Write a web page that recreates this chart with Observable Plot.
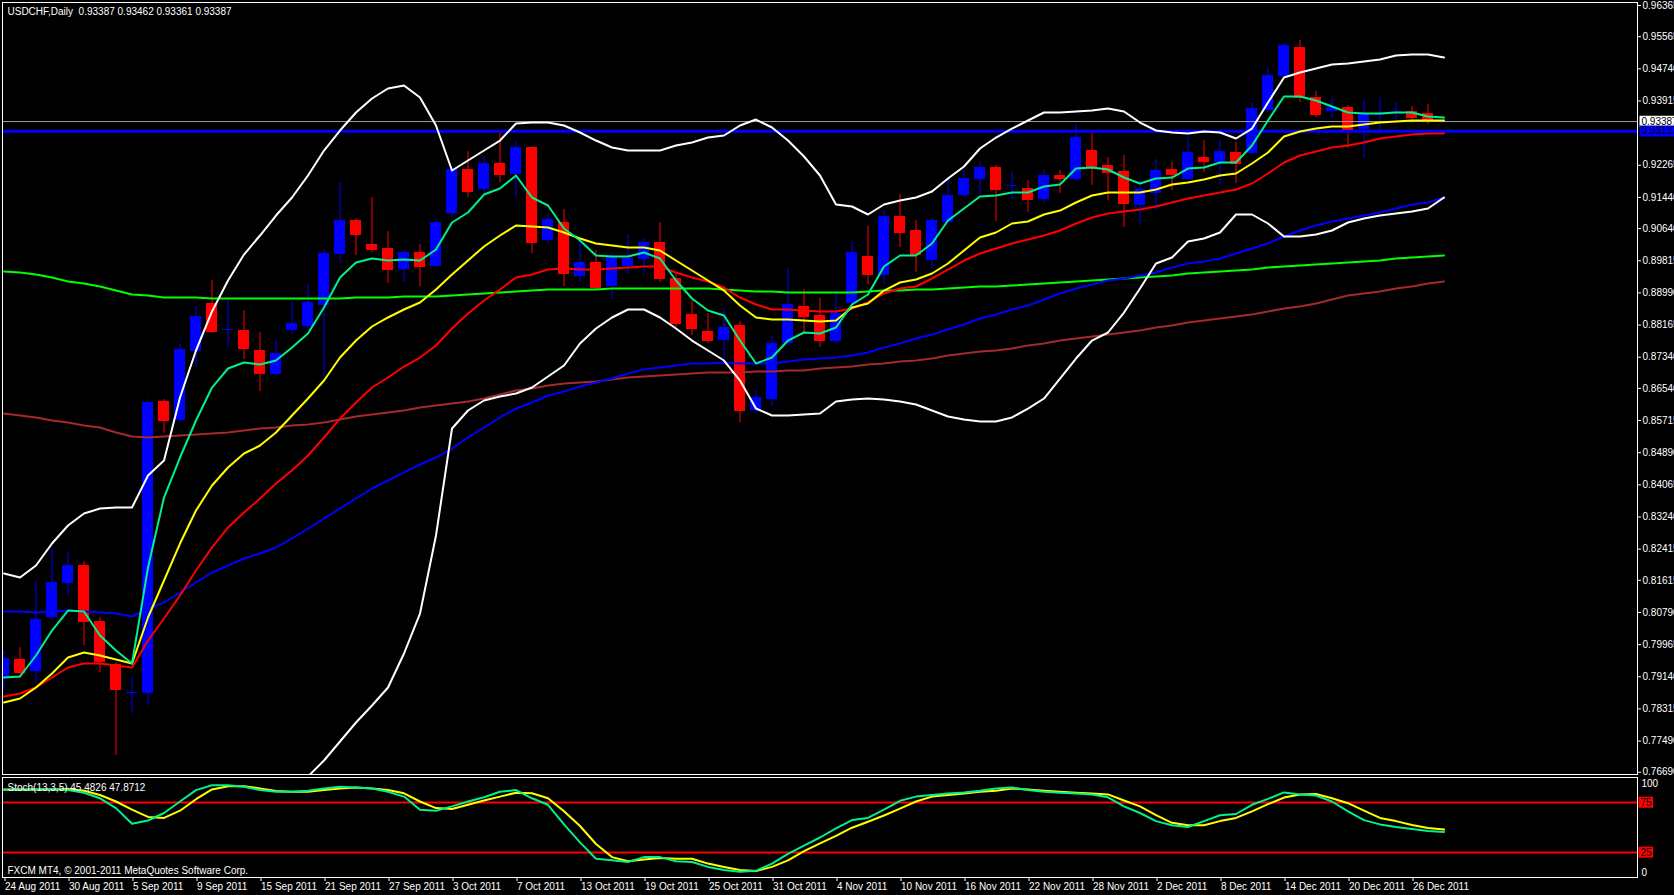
<!DOCTYPE html>
<html><head><meta charset="utf-8">
<script src="https://cdn.jsdelivr.net/npm/d3@7"></script>
<script src="https://cdn.jsdelivr.net/npm/@observablehq/plot@0.6"></script>
<style>
html,body{margin:0;padding:0;background:#000;width:1674px;height:895px;overflow:hidden;}
#wrap{position:relative;width:1674px;height:895px;}
#wrap svg{position:absolute;left:0;top:0;}
svg text{white-space:pre;}
</style></head><body><div id="wrap"></div>
<script>
// ---------- data ----------
const symbol = "USDCHF,Daily";
const dates = ["24 Aug","25 Aug","26 Aug","29 Aug","30 Aug","31 Aug","1 Sep","2 Sep","5 Sep","6 Sep","7 Sep","8 Sep","9 Sep","12 Sep","13 Sep","14 Sep","15 Sep","16 Sep","19 Sep","20 Sep","21 Sep","22 Sep","23 Sep","26 Sep","27 Sep","28 Sep","29 Sep","30 Sep","3 Oct","4 Oct","5 Oct","6 Oct","7 Oct","10 Oct","11 Oct","12 Oct","13 Oct","14 Oct","17 Oct","18 Oct","19 Oct","20 Oct","21 Oct","24 Oct","25 Oct","26 Oct","27 Oct","28 Oct","31 Oct","1 Nov","2 Nov","3 Nov","4 Nov","7 Nov","8 Nov","9 Nov","10 Nov","11 Nov","14 Nov","15 Nov","16 Nov","17 Nov","18 Nov","21 Nov","22 Nov","23 Nov","24 Nov","25 Nov","28 Nov","29 Nov","30 Nov","1 Dec","2 Dec","5 Dec","6 Dec","7 Dec","8 Dec","9 Dec","12 Dec","13 Dec","14 Dec","15 Dec","16 Dec","19 Dec","20 Dec","21 Dec","22 Dec","23 Dec","26 Dec","27 Dec","28 Dec"];
const year = "2011";

const open = [0.79120,0.79583,0.79275,0.80660,0.81533,0.81995,0.80558,0.79454,0.78710,0.78710,
0.86203,0.85715,0.87486,0.88718,0.88025,0.88025,0.87512,0.86896,0.88025,0.88127,
0.88666,0.89975,0.90848,0.90232,0.90129,0.89590,0.90026,0.89667,0.91027,0.92156,
0.91643,0.92310,0.92028,0.92721,0.90334,0.90796,0.89411,0.89770,0.89154,0.89667,
0.89847,0.90283,0.89359,0.88435,0.87999,0.87768,0.88153,0.85972,0.86254,0.87691,
0.88641,0.88410,0.87743,0.88718,0.89924,0.89436,0.90950,0.90591,0.89821,0.90796,
0.91489,0.91900,0.92208,0.91720,0.91669,0.91387,0.92002,0.91900,0.92644,0.92259,
0.92105,0.91233,0.91540,0.92156,0.91900,0.92464,0.92336,0.92593,0.92567,0.93670,
0.94543,0.95287,0.94004,0.93645,0.93747,0.93183,0.93542,0.93593,0.93645,0.93593,
0.93387];
const high = [0.79813,0.79890,0.81584,0.82405,0.82328,0.82097,0.80660,0.79506,0.79120,0.86254,
0.86254,0.87691,0.88641,0.89308,0.88846,0.88538,0.87974,0.87768,0.88769,0.89205,
0.90103,0.91823,0.90899,0.91438,0.90565,0.90078,0.90232,0.90873,0.92233,0.92618,
0.92490,0.93106,0.92875,0.92746,0.91027,0.91130,0.90360,0.90078,0.90001,0.90488,
0.90386,0.90796,0.89513,0.88795,0.88461,0.88564,0.88256,0.86485,0.87871,0.89616,
0.89077,0.88846,0.89026,0.90309,0.90694,0.91104,0.91515,0.90848,0.90899,0.91951,
0.92156,0.92336,0.92259,0.92105,0.91874,0.92131,0.92131,0.93311,0.93080,0.92464,
0.92516,0.91874,0.92413,0.92336,0.92977,0.92900,0.92900,0.92849,0.93876,0.94774,
0.95390,0.95467,0.94158,0.94004,0.93799,0.93927,0.94004,0.93876,0.93773,0.93824,
0.93462];
const low = [0.78787,0.79098,0.78970,0.80583,0.81225,0.79942,0.79249,0.77119,0.78197,0.78402,
0.85382,0.85664,0.87075,0.87948,0.87589,0.87281,0.86460,0.86844,0.87948,0.88025,
0.86819,0.89744,0.89949,0.90026,0.89231,0.89257,0.89154,0.89642,0.90925,0.91438,
0.91540,0.91823,0.91438,0.90001,0.90257,0.89154,0.89257,0.89051,0.88820,0.89462,
0.89488,0.89257,0.88102,0.87897,0.87691,0.87306,0.85664,0.85921,0.86075,0.87640,
0.87974,0.87589,0.87691,0.88666,0.89205,0.89205,0.90155,0.89513,0.89616,0.90745,
0.91438,0.91515,0.90822,0.91387,0.91053,0.91284,0.91540,0.91849,0.91746,0.91361,
0.90668,0.90719,0.91104,0.91617,0.91849,0.92079,0.91746,0.91797,0.92516,0.93619,
0.94492,0.93876,0.93491,0.93465,0.92695,0.92439,0.93080,0.93337,0.93439,0.93311,
0.93361];
const close = [0.79608,0.79249,0.80609,0.81558,0.81995,0.80558,0.79531,0.78813,0.78736,0.86177,
0.85715,0.87537,0.88384,0.87999,0.88051,0.87563,0.86921,0.87435,0.88204,0.88743,
0.90001,0.90848,0.90488,0.90103,0.89590,0.90026,0.89667,0.90796,0.92156,0.91592,
0.92310,0.92028,0.92721,0.90283,0.90873,0.89488,0.89770,0.89128,0.89898,0.89873,
0.90283,0.89359,0.88204,0.88076,0.87768,0.88102,0.85972,0.86306,0.87691,0.88692,
0.88384,0.87768,0.88461,0.90026,0.89462,0.90950,0.90540,0.89975,0.90848,0.91489,
0.91925,0.92208,0.91643,0.91746,0.91387,0.92002,0.91925,0.92977,0.92208,0.92079,
0.91284,0.91643,0.92131,0.92028,0.92593,0.92362,0.92618,0.92310,0.93722,0.94568,
0.95338,0.94004,0.93568,0.93747,0.93183,0.93593,0.93593,0.93645,0.93491,0.93388,
0.93387];

const fastMA = [0.79121,0.79147,0.79686,0.80327,0.80840,0.80814,0.80199,0.79814,0.79480,0.81944,
0.83739,0.84766,0.85716,0.86562,0.87050,0.87204,0.87153,0.87255,0.87589,0.87948,
0.88615,0.89385,0.89770,0.89872,0.89821,0.89847,0.89821,0.90104,0.90797,0.91053,
0.91514,0.91668,0.92003,0.91438,0.91233,0.90642,0.90334,0.89950,0.89924,0.89924,
0.90027,0.89872,0.89308,0.88846,0.88538,0.88410,0.87768,0.87178,0.87332,0.87768,
0.87974,0.87948,0.88102,0.88692,0.88949,0.89667,0.89950,0.89950,0.90257,0.90848,
0.91155,0.91463,0.91489,0.91566,0.91566,0.91720,0.91771,0.92182,0.92208,0.92157,
0.91951,0.91797,0.91925,0.91951,0.92182,0.92208,0.92336,0.92336,0.92772,0.93414,
0.94030,0.94030,0.93927,0.93773,0.93619,0.93593,0.93593,0.93619,0.93619,0.93516,
0.93491];
const yellowMA = [0.78480,0.78582,0.78864,0.79224,0.79634,0.79763,0.79686,0.79583,0.79480,0.80661,
0.81610,0.82559,0.83406,0.84047,0.84510,0.84869,0.85074,0.85408,0.85844,0.86280,
0.86742,0.87332,0.87768,0.88128,0.88359,0.88564,0.88744,0.89077,0.89462,0.89821,
0.90181,0.90463,0.90720,0.90694,0.90668,0.90540,0.90386,0.90257,0.90206,0.90155,
0.90155,0.90078,0.89821,0.89565,0.89308,0.89051,0.88667,0.88359,0.88308,0.88308,
0.88282,0.88256,0.88282,0.88615,0.88718,0.89051,0.89257,0.89334,0.89488,0.89744,
0.90078,0.90411,0.90540,0.90771,0.90822,0.91002,0.91104,0.91310,0.91489,0.91566,
0.91566,0.91566,0.91643,0.91771,0.91823,0.91900,0.92003,0.92054,0.92310,0.92593,
0.93003,0.93132,0.93209,0.93260,0.93260,0.93311,0.93362,0.93388,0.93414,0.93414,
0.93414];
const redMA = [0.78633,0.78710,0.78864,0.79121,0.79378,0.79480,0.79480,0.79429,0.79378,0.80070,
0.80635,0.81225,0.81867,0.82457,0.82970,0.83355,0.83714,0.84099,0.84433,0.84817,
0.85279,0.85767,0.86178,0.86562,0.86819,0.87101,0.87332,0.87640,0.88076,0.88461,
0.88795,0.89077,0.89385,0.89462,0.89590,0.89616,0.89590,0.89590,0.89616,0.89642,
0.89667,0.89667,0.89513,0.89385,0.89283,0.89128,0.88872,0.88692,0.88564,0.88564,
0.88538,0.88513,0.88513,0.88590,0.88744,0.88975,0.89103,0.89154,0.89360,0.89590,
0.89821,0.90001,0.90130,0.90257,0.90360,0.90463,0.90591,0.90771,0.90925,0.91027,
0.91078,0.91130,0.91207,0.91310,0.91412,0.91489,0.91566,0.91643,0.91797,0.92054,
0.92336,0.92516,0.92618,0.92721,0.92772,0.92849,0.92951,0.93003,0.93054,0.93080,
0.93080];
const blueMA = [0.80814,0.80814,0.80789,0.80814,0.80840,0.80814,0.80789,0.80763,0.80686,0.80891,
0.81046,0.81302,0.81559,0.81815,0.81995,0.82174,0.82303,0.82457,0.82688,0.82944,
0.83201,0.83457,0.83714,0.83971,0.84176,0.84382,0.84587,0.84766,0.84997,0.85279,
0.85536,0.85793,0.86023,0.86177,0.86357,0.86460,0.86588,0.86691,0.86793,0.86922,
0.87024,0.87076,0.87127,0.87178,0.87178,0.87204,0.87178,0.87178,0.87178,0.87230,
0.87281,0.87306,0.87332,0.87383,0.87460,0.87589,0.87691,0.87819,0.87922,0.88050,
0.88179,0.88333,0.88436,0.88564,0.88667,0.88820,0.88974,0.89103,0.89205,0.89308,
0.89359,0.89436,0.89513,0.89642,0.89744,0.89795,0.89872,0.90001,0.90129,0.90257,
0.90437,0.90591,0.90719,0.90822,0.90899,0.90976,0.91053,0.91155,0.91258,0.91309,
0.91438];
const limeMA = [0.89539,0.89513,0.89462,0.89385,0.89283,0.89231,0.89154,0.89051,0.88949,0.88923,
0.88872,0.88872,0.88872,0.88846,0.88846,0.88846,0.88846,0.88846,0.88846,0.88846,
0.88846,0.88846,0.88872,0.88872,0.88872,0.88897,0.88897,0.88897,0.88923,0.88949,
0.88974,0.89000,0.89026,0.89051,0.89077,0.89077,0.89077,0.89077,0.89103,0.89103,
0.89103,0.89103,0.89103,0.89103,0.89103,0.89077,0.89051,0.89026,0.89026,0.89000,
0.89000,0.89000,0.89000,0.89000,0.89026,0.89051,0.89051,0.89077,0.89077,0.89103,
0.89128,0.89154,0.89154,0.89180,0.89205,0.89231,0.89257,0.89283,0.89308,0.89334,
0.89359,0.89385,0.89411,0.89436,0.89488,0.89513,0.89539,0.89565,0.89590,0.89642,
0.89667,0.89693,0.89719,0.89744,0.89770,0.89795,0.89821,0.89872,0.89898,0.89924,
0.89950];
const brownMA = [0.85895,0.85844,0.85793,0.85716,0.85664,0.85587,0.85536,0.85408,0.85305,0.85279,
0.85305,0.85331,0.85356,0.85382,0.85408,0.85459,0.85510,0.85536,0.85587,0.85613,
0.85664,0.85741,0.85818,0.85870,0.85921,0.85972,0.86049,0.86100,0.86152,0.86203,
0.86280,0.86383,0.86485,0.86537,0.86614,0.86665,0.86691,0.86716,0.86768,0.86819,
0.86845,0.86870,0.86896,0.86922,0.86947,0.86947,0.86947,0.86973,0.86973,0.86999,
0.86999,0.87050,0.87076,0.87101,0.87153,0.87178,0.87230,0.87255,0.87306,0.87383,
0.87435,0.87486,0.87512,0.87563,0.87640,0.87691,0.87768,0.87819,0.87871,0.87922,
0.87974,0.88025,0.88102,0.88153,0.88231,0.88282,0.88333,0.88384,0.88436,0.88513,
0.88590,0.88641,0.88718,0.88821,0.88923,0.88975,0.89026,0.89103,0.89154,0.89231,
0.89283];
const bbUpper = [0.81790,0.81687,0.81995,0.82559,0.83021,0.83329,0.83457,0.83483,0.83483,0.84304,
0.84689,0.86306,0.87512,0.88513,0.89308,0.89975,0.90463,0.90976,0.91438,0.92003,
0.92644,0.93157,0.93619,0.93978,0.94235,0.94312,0.94004,0.93286,0.92131,0.92387,
0.92644,0.92900,0.93337,0.93362,0.93362,0.93286,0.93106,0.92900,0.92721,0.92644,
0.92644,0.92644,0.92772,0.92849,0.92977,0.93029,0.93286,0.93439,0.93234,0.92900,
0.92490,0.92003,0.91258,0.91207,0.91002,0.91258,0.91361,0.91438,0.91592,0.91925,
0.92233,0.92695,0.92977,0.93208,0.93414,0.93619,0.93619,0.93645,0.93670,0.93722,
0.93645,0.93362,0.93157,0.93106,0.93080,0.93131,0.93106,0.92952,0.93208,0.93876,
0.94517,0.94645,0.94748,0.94851,0.94876,0.94928,0.94979,0.95082,0.95107,0.95107,
0.95030];
const bbLower = [null,null,null,null,null,null,null,null,null,null,
null,null,null,null,null,null,null,null,0.76170,0.76581,
0.76991,0.77479,0.77966,0.78402,0.78864,0.79737,0.80763,0.82765,0.85510,0.85972,
0.86229,0.86331,0.86408,0.86562,0.86845,0.87127,0.87691,0.88076,0.88359,0.88564,
0.88564,0.88359,0.88076,0.87768,0.87512,0.87255,0.86742,0.86023,0.85844,0.85844,
0.85870,0.85895,0.86203,0.86254,0.86280,0.86254,0.86203,0.86126,0.85972,0.85818,
0.85741,0.85690,0.85690,0.85793,0.86023,0.86280,0.86793,0.87306,0.87768,0.87974,
0.88487,0.89103,0.89744,0.89898,0.90309,0.90386,0.90540,0.91002,0.91002,0.90771,
0.90437,0.90437,0.90488,0.90591,0.90797,0.90899,0.90976,0.91027,0.91078,0.91155,
0.91438];

const stochMain = [87.4,87.4,88.1,88.1,87.4,84.8,79.2,69.4,53.8,57.0,
64.5,76.0,87.4,92.3,92.3,90.7,87.4,85.8,85.8,86.8,
89.1,90.7,90.0,89.1,85.8,80.9,67.8,66.8,71.1,76.0,
80.2,85.8,87.4,79.2,72.7,53.1,35.1,18.8,17.2,15.5,
20.4,20.4,16.2,15.5,10.6,7.4,5.7,6.7,13.9,23.7,
31.9,40.0,49.2,57.4,59.6,67.8,76.7,80.9,82.5,84.1,
85.1,86.8,89.0,90.0,87.5,85.8,84.8,84.1,83.1,80.2,
71.1,64.5,56.4,52.2,50.5,56.4,62.3,63.5,72.7,78.6,
85.1,83.1,81.9,76.0,66.2,57.4,53.1,50.5,48.5,46.6,
45.5];
const stochSignal = [88.1,88.1,88.1,88.1,88.4,86.8,82.5,76.0,67.8,60.6,
59.6,66.8,78.3,88.1,91.3,91.3,89.1,86.4,85.8,85.8,
87.4,89.1,90.0,89.1,87.4,84.2,76.0,69.4,68.5,72.7,
77.0,80.9,84.8,84.2,79.2,66.2,51.5,33.5,20.4,16.2,
18.1,19.4,18.8,18.8,13.9,10.6,7.4,6.4,10.6,17.2,
26.3,34.1,41.7,49.8,55.7,62.0,68.8,76.0,80.9,82.5,
84.1,85.8,86.8,89.0,88.0,86.8,85.8,84.8,84.1,83.1,
77.0,71.1,62.3,54.7,52.2,52.2,56.4,59.6,66.2,73.3,
79.9,83.1,83.5,79.2,74.3,66.9,59.6,56.4,52.5,49.5,
47.9];
const stochLabel = "Stoch(13,3,5) 45.4826 47.8712";
const stochLevels = [75, 25];
const stochBounds = [100, 0];
const copyright = "FXCM MT4, © 2001-2011 MetaQuotes Software Corp.";

const priceTicks = [0.96365,0.95565,0.94740,0.93915,0.92265,0.91440,0.90640,0.89815,0.88990,0.88165,0.87340,0.86540,0.85715,0.84890,0.84065,0.83240,0.82415,0.81615,0.80790,0.79965,0.79140,0.78315,0.77490,0.76690];
const bidPrice = 0.93387;
const hLinePrice = 0.93137;

// ---------- chart ----------
const W = 1674, H = 895;
const n = open.length;
const idx = d3.range(n);
const candles = idx.map(i => ({i, o: open[i], h: high[i], l: low[i], c: close[i], up: close[i] >= open[i]}));
const candleColor = d => d.up ? "#0000ff" : "#ff0000";
const half = 5.5 / 16;
const xOpt = {domain: [-0.09375, 102.09375], axis: null};
const baseStyle = {fontFamily: "'Liberation Sans', Arial, sans-serif", fontSize: "10px", background: "transparent", overflow: "visible", color: "#fff"};
const ln = (arr, stroke, w = 2) => Plot.line(arr, {x: (d, i) => i, y: d => d, stroke, strokeWidth: w, clip: true, curve: "linear"});

const last = n - 1;
const title = `${symbol}  ${open[last].toFixed(5)} ${high[last].toFixed(5)} ${low[last].toFixed(5)} ${close[last].toFixed(5)}`;

const main = Plot.plot({
  width: W, height: H,
  marginLeft: 2, marginRight: 37, marginTop: 2, marginBottom: H - 774,
  x: xOpt,
  y: {domain: [0.76632, 0.96442], axis: null},
  color: {type: "identity"},
  style: baseStyle,
  marks: [
    Plot.ruleX(candles, {x: "i", y1: "l", y2: "h", stroke: candleColor, strokeWidth: 1, clip: true}),
    Plot.rect(candles, {x1: d => d.i - half, x2: d => d.i + half, y1: "o", y2: "c", fill: candleColor, clip: true}),
    Plot.ruleY(candles, {y: "c", x1: d => d.i - half, x2: d => d.i + half, stroke: candleColor, clip: true}),
    Plot.ruleY([bidPrice], {stroke: "#a0a0a0", strokeWidth: 1}),
    Plot.ruleY([hLinePrice], {stroke: "#0000ff", strokeWidth: 3}),
    ln(brownMA, "#a52a2a"),
    ln(limeMA, "#00ff00"),
    ln(blueMA, "#0000ff"),
    ln(redMA, "#ff0000"),
    ln(yellowMA, "#ffff00"),
    ln(fastMA, "#00f08c"),
    ln(bbUpper, "#ffffff"),
    ln(bbLower, "#ffffff"),
    Plot.frame({stroke: "#ffffff", shapeRendering: "crispEdges"}),
    Plot.axisY({anchor: "right", ticks: priceTicks, tickFormat: d => d.toFixed(5), tickSize: 3, tickPadding: 2, stroke: "#fff", fill: "#fff", fontSize: 10}),
    Plot.text([bidPrice], {y: d => d, text: d => d.toFixed(5), frameAnchor: "right", dx: 4, textAnchor: "start", fill: "#000", fontSize: 10}),
    Plot.text([hLinePrice], {y: d => d, text: d => d.toFixed(5), frameAnchor: "right", dx: 4, textAnchor: "start", fill: "#000", fontSize: 10}),
    Plot.text([title], {frameAnchor: "top-left", dx: 5, dy: 9, textAnchor: "start", lineAnchor: "middle", fill: "#fff", fontSize: 10})
  ]
});

const stoch = Plot.plot({
  width: W, height: H,
  marginLeft: 2, marginRight: 37, marginTop: 777, marginBottom: H - 877,
  x: xOpt,
  y: {domain: [0, 100], axis: null},
  style: baseStyle,
  marks: [
    Plot.ruleY(stochLevels, {stroke: "#ff0000", strokeWidth: 2}),
    Plot.line(stochSignal, {x: (d, i) => i, y: d => d, stroke: "#ffff00", strokeWidth: 2}),
    Plot.line(stochMain, {x: (d, i) => i, y: d => d, stroke: "#00f08c", strokeWidth: 2}),
    Plot.frame({stroke: "#ffffff", shapeRendering: "crispEdges"}),
    Plot.text(stochLevels, {y: d => d, text: d => String(d), frameAnchor: "right", dx: 3, textAnchor: "start", fill: "#000", fontSize: 10}),
    Plot.text([stochBounds[0]], {y: d => d, text: d => String(d), frameAnchor: "right", dx: 4, dy: 6, textAnchor: "start", fill: "#fff", fontSize: 10}),
    Plot.text([stochBounds[1]], {y: d => d, text: d => String(d), frameAnchor: "right", dx: 4, dy: -5, textAnchor: "start", fill: "#fff", fontSize: 10}),
    Plot.text([stochLabel], {frameAnchor: "top-left", dx: 5, dy: 10, textAnchor: "start", lineAnchor: "middle", fill: "#fff", fontSize: 10}),
    Plot.text([copyright], {frameAnchor: "bottom-left", dx: 5, dy: -7, textAnchor: "start", lineAnchor: "middle", fill: "#fff", fontSize: 10}),
    Plot.axisX({anchor: "bottom", ticks: idx.filter(i => i % 4 === 0), tickFormat: i => `${dates[i]} ${year}`, tickSize: 4, tickPadding: 1, textAnchor: "start", dx: 1, stroke: "#fff", fill: "#fff", fontSize: 10})
  ]
});

const wrap = document.getElementById("wrap");
wrap.appendChild(main);
wrap.appendChild(stoch);

function boxify(svg, label, fill, width) {
  svg.querySelectorAll("text").forEach(t => {
    if (t.textContent !== label) return;
    const b = t.getBBox();
    const r = document.createElementNS("http://www.w3.org/2000/svg", "rect");
    r.setAttribute("x", b.x - 2);
    r.setAttribute("y", b.y);
    r.setAttribute("width", width != null ? width : b.width + 3);
    r.setAttribute("height", b.height);
    r.setAttribute("fill", fill);
    const tr = t.getAttribute("transform");
    if (tr) r.setAttribute("transform", tr);
    t.parentNode.insertBefore(r, t);
  });
}
boxify(main, bidPrice.toFixed(5), "#ffffff", 60);
boxify(main, hLinePrice.toFixed(5), "#0000ff", 60);
stochLevels.forEach(v => boxify(stoch, String(v), "#ff0000"));
</script>
</body></html>
